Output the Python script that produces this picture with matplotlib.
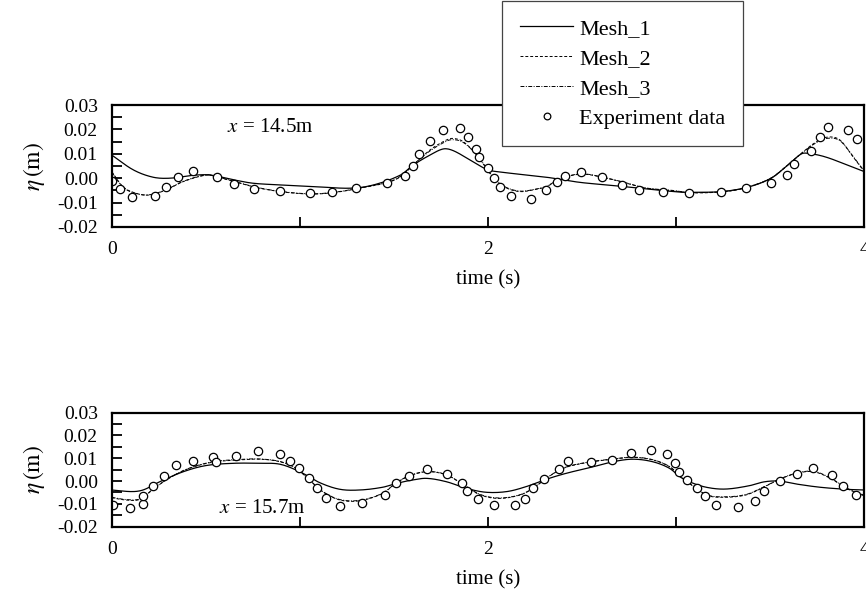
import numpy as np
import matplotlib
matplotlib.use("Agg")
import matplotlib.pyplot as plt
from matplotlib.ticker import MultipleLocator

plt.rcParams['font.family'] = ['Liberation Serif', 'DejaVu Serif']
plt.rcParams['mathtext.fontset'] = 'stix'

# ---- x = 14.5 m ----
exp1_t = [0.0, 0.044, 0.106, 0.23, 0.29, 0.35, 0.43, 0.56, 0.65, 0.755, 0.895, 1.055,
          1.17, 1.30, 1.465, 1.56, 1.60, 1.635, 1.694, 1.763, 1.85, 1.895, 1.938, 1.952,
          1.998, 2.031, 2.065, 2.122, 2.229, 2.31, 2.365, 2.407, 2.497, 2.604, 2.713,
          2.80, 2.93, 3.07, 3.24, 3.374, 3.502, 3.59, 3.624, 3.716, 3.767, 3.807, 3.916, 3.96]
exp1_eta = [-0.001, -0.0045, -0.0078, -0.0073, -0.0035, 0.0004, 0.0028, 0.0006, -0.0025,
            -0.0044, -0.0052, -0.0061, -0.0057, -0.0039, -0.0021, 0.001, 0.0049, 0.0099,
            0.0151, 0.0198, 0.0207, 0.0168, 0.0121, 0.0087, 0.0042, 0.0, -0.0037, -0.0074,
            -0.0087, -0.0048, -0.0017, 0.0009, 0.0027, 0.0005, -0.0028, -0.0048, -0.0058,
            -0.0062, -0.0057, -0.0039, -0.0018, 0.0012, 0.0058, 0.011, 0.0168, 0.0209,
            0.0199, 0.0161]

m1_t1 = [0.0, 0.115, 0.22, 0.31, 0.435, 0.523, 0.65, 0.755, 0.915, 1.09, 1.27, 1.39,
         1.535, 1.603, 1.692, 1.763, 1.815, 1.904, 1.993, 2.046, 2.31, 2.487, 2.665, 2.84,
         3.02, 3.075, 3.24, 3.38, 3.505, 3.594, 3.664, 3.70, 3.79, 3.91, 4.0]
m1_eta1 = [0.0095, 0.0034, 0.0004, 0.0, 0.0012, 0.0013, -0.0007, -0.0021, -0.0028,
           -0.0035, -0.0041, -0.0028, 0.0013, 0.0054, 0.0095, 0.012, 0.0113, 0.0075,
           0.0036, 0.0027, 0.0004, -0.0017, -0.003, -0.0044, -0.0057, -0.0058, -0.0055,
           -0.0037, 0.0, 0.0054, 0.0099, 0.0102, 0.0088, 0.0054, 0.0027]

m2_t1 = [0.0, 0.06, 0.13, 0.2, 0.29, 0.38, 0.505, 0.56, 0.65, 0.755, 0.895, 1.055, 1.18,
         1.32, 1.465, 1.535, 1.603, 1.692, 1.78, 1.815, 1.868, 1.94, 1.993, 2.046, 2.10,
         2.17, 2.24, 2.31, 2.38, 2.455, 2.52, 2.60, 2.705, 2.84, 2.98, 3.075, 3.26, 3.38,
         3.505, 3.594, 3.664, 3.733, 3.80, 3.87, 3.94, 4.0]
m2_eta1 = [0.0027, -0.0035, -0.0062, -0.0069, -0.0048, -0.0014, 0.0013, 0.0005, -0.0014,
           -0.0036, -0.0055, -0.0065, -0.0059, -0.0041, -0.0018, 0.0006, 0.0054, 0.0116,
           0.0157, 0.0163, 0.015, 0.0095, 0.0038, -0.0014, -0.0041, -0.0055, -0.0048,
           -0.0035, -0.0005, 0.0013, 0.0016, 0.0005, -0.0014, -0.0041, -0.0051, -0.006,
           -0.0055, -0.0037, 0.0, 0.0054, 0.0101, 0.0143, 0.0168, 0.0157, 0.0088, 0.0027]
m3_eta1 = [0.0025, -0.0037, -0.0063, -0.0068, -0.0047, -0.0013, 0.0014, 0.0006, -0.0013,
           -0.0035, -0.0054, -0.0064, -0.0058, -0.0040, -0.0017, 0.0008, 0.0056, 0.0112,
           0.0152, 0.0158, 0.0147, 0.0096, 0.0040, -0.0011, -0.0039, -0.0053, -0.0047,
           -0.0033, -0.0004, 0.0014, 0.0017, 0.0006, -0.0013, -0.0040, -0.0050, -0.0059,
           -0.0054, -0.0036, 0.0001, 0.0055, 0.0100, 0.0140, 0.0163, 0.0154, 0.0090, 0.0029]

# ---- x = 15.7 m ----
exp2_t = [0.007, 0.096, 0.166, 0.166, 0.22, 0.28, 0.34, 0.43, 0.54, 0.556, 0.66, 0.777,
          0.894, 0.947, 0.994, 1.047, 1.09, 1.14, 1.214, 1.33, 1.453, 1.51, 1.58, 1.675,
          1.78, 1.86, 1.89, 1.947, 2.03, 2.144, 2.195, 2.24, 2.30, 2.375, 2.427, 2.545,
          2.66, 2.76, 2.865, 2.95, 2.995, 3.016, 3.06, 3.11, 3.155, 3.21, 3.33, 3.42,
          3.465, 3.55, 3.64, 3.726, 3.83, 3.885, 3.957]
exp2_eta = [-0.0105, -0.0117, -0.0102, -0.0064, -0.002, 0.0022, 0.0069, 0.009, 0.0107,
            0.0085, 0.0111, 0.0132, 0.0118, 0.0088, 0.0056, 0.0015, -0.0032, -0.0073,
            -0.0109, -0.0096, -0.0062, -0.0007, 0.0021, 0.0054, 0.0032, -0.001, -0.0043,
            -0.0079, -0.0105, -0.0103, -0.0077, -0.0032, 0.0009, 0.0053, 0.009, 0.0085,
            0.0093, 0.0125, 0.0136, 0.0119, 0.0081, 0.004, 0.0003, -0.0032, -0.0067,
            -0.0105, -0.0115, -0.0087, -0.0043, 0.0, 0.0031, 0.0059, 0.0028, -0.002, -0.0061]

m1_t2 = [0.0, 0.11, 0.17, 0.255, 0.38, 0.50, 0.645, 0.787, 0.894, 1.0, 1.106, 1.213,
         1.32, 1.44, 1.514, 1.6, 1.675, 1.78, 1.886, 1.99, 2.1, 2.2, 2.31, 2.415, 2.56,
         2.665, 2.77, 2.875, 2.965, 3.02, 3.07, 3.16, 3.26, 3.385, 3.47, 3.55, 3.64,
         3.765, 3.905, 4.0]
m1_eta2 = [-0.0039, -0.0046, -0.0038, -0.0003, 0.0041, 0.0068, 0.0078, 0.0078, 0.0074,
           0.0041, -0.0007, -0.0036, -0.0039, -0.0027, -0.001, 0.0005, 0.0012, -0.0003,
           -0.0032, -0.0049, -0.0046, -0.0025, 0.0008, 0.0034, 0.0063, 0.0085, 0.0096,
           0.0085, 0.0056, 0.0019, -0.0003, -0.0027, -0.0035, -0.0021, -0.0003, 0.0,
           -0.0013, -0.0027, -0.0036, -0.0039]

m2_t2 = [0.0, 0.077, 0.15, 0.22, 0.29, 0.38, 0.466, 0.555, 0.68, 0.787, 0.894, 0.98,
         1.05, 1.12, 1.213, 1.32, 1.44, 1.51, 1.58, 1.675, 1.78, 1.87, 1.96, 2.06, 2.17,
         2.24, 2.31, 2.4, 2.524, 2.665, 2.77, 2.875, 2.965, 3.02, 3.07, 3.16, 3.245,
         3.37, 3.47, 3.55, 3.64, 3.73, 3.82, 3.905, 4.0]
m2_eta2 = [-0.0073, -0.0083, -0.008, -0.0036, 0.0005, 0.0045, 0.007, 0.0085, 0.0093,
           0.0096, 0.0085, 0.0056, 0.0005, -0.0046, -0.0083, -0.0086, -0.0054, -0.001,
           0.0022, 0.0041, 0.0027, -0.0017, -0.0061, -0.0076, -0.0061, -0.0032, 0.0012,
           0.0056, 0.0081, 0.0096, 0.0104, 0.0093, 0.0063, 0.0022, -0.001, -0.0061,
           -0.0071, -0.0061, -0.0025, 0.0008, 0.0034, 0.0041, 0.0012, -0.0032, -0.0065]
m3_eta2 = [-0.0071, -0.0081, -0.0078, -0.0035, 0.0006, 0.0046, 0.0071, 0.0087, 0.0095,
           0.0097, 0.0086, 0.0057, 0.0006, -0.0045, -0.0081, -0.0084, -0.0053, -0.0009,
           0.0023, 0.0042, 0.0028, -0.0016, -0.0059, -0.0074, -0.0060, -0.0031, 0.0013,
           0.0057, 0.0082, 0.0097, 0.0105, 0.0094, 0.0064, 0.0023, -0.0009, -0.0059,
           -0.0069, -0.0059, -0.0024, 0.0009, 0.0035, 0.0043, 0.0014, -0.0030, -0.0062]


def smooth(t, y):
    # hermite spline through the read points, only for drawing a smooth curve
    t = np.asarray(t, float)
    y = np.asarray(y, float)
    tt = np.linspace(t[0], t[-1], 600)
    out = []
    for x in tt:
        i = np.searchsorted(t, x) - 1
        i = min(max(i, 0), len(t) - 2)
        a, d = max(i - 1, 0), min(i + 2, len(t) - 1)
        h = t[i + 1] - t[i]
        s = (x - t[i]) / h
        m1 = (y[i + 1] - y[a]) / (t[i + 1] - t[a]) * h
        m2 = (y[d] - y[i]) / (t[d] - t[i]) * h
        out.append((2 * s**3 - 3 * s**2 + 1) * y[i] + (s**3 - 2 * s**2 + s) * m1
                   + (-2 * s**3 + 3 * s**2) * y[i + 1] + (s**3 - s**2) * m2)
    return tt, np.array(out)


fig = plt.figure(figsize=(8.66, 5.92), dpi=100)
ax1 = fig.add_axes([0.129, 0.6166, 0.869, 0.206])
ax2 = fig.add_axes([0.129, 0.1103, 0.869, 0.1926])

panels = [
    (ax1, exp1_t, exp1_eta, m1_t1, m1_eta1, m2_t1, m2_eta1, m3_eta1, '14.5m', (0.84, 0.0206)),
    (ax2, exp2_t, exp2_eta, m1_t2, m1_eta2, m2_t2, m2_eta2, m3_eta2, '15.7m', (0.80, -0.0118)),
]

for ax, et, ee, t1, e1, t2, e2, e3, lab, pos in panels:
    ax.plot(*smooth(t1, e1), color='black', lw=0.9, ls='-', label='Mesh_1')
    ax.plot(*smooth(t2, e2), color='black', lw=0.7, ls=(0, (3, 2)), label='Mesh_2')
    ax.plot(*smooth(t2, e3), color='black', lw=0.7, ls=(0, (4, 1.5, 1, 1.5)), label='Mesh_3')
    ax.plot(et, ee, 'o', mfc='white', mec='black', mew=0.9, ms=6, label='Experiment data')
    ax.set_xlim(0, 4)
    ax.set_ylim(-0.02, 0.03)
    ax.xaxis.set_major_locator(MultipleLocator(2))
    ax.xaxis.set_minor_locator(MultipleLocator(1))
    ax.yaxis.set_major_locator(MultipleLocator(0.01))
    ax.yaxis.set_minor_locator(MultipleLocator(0.005))
    ax.yaxis.set_major_formatter(plt.FuncFormatter(lambda v, p: '%.2f' % v))
    ax.tick_params(which='both', direction='in', length=7.5, width=1.3, labelsize=14,
                   top=False, right=False)
    ax.tick_params(axis='x', pad=10)
    ax.tick_params(axis='y', pad=10)
    for s in ax.spines.values():
        s.set_linewidth(1.6)
    ax.set_xlabel('time (s)', fontsize=15, labelpad=9)
    ax.set_ylabel(r'$\eta\,(\mathrm{m})$', fontsize=17, labelpad=7)
    ax.text(pos[0], pos[1], '$x$ = ' + lab, fontsize=15, ha='center', va='center')

handles, labels = ax1.get_legend_handles_labels()
leg = fig.legend(handles, labels, loc='upper left', bbox_to_anchor=(0.58, 0.999),
                 fontsize=16, frameon=True, fancybox=False, framealpha=1,
                 edgecolor='#444444', handlelength=2.4, labelspacing=0.42,
                 borderpad=0.8, handletextpad=0.25, borderaxespad=0, markerscale=0.8)
leg.get_frame().set_linewidth(0.9)

fig.savefig('out.png', dpi=100)
